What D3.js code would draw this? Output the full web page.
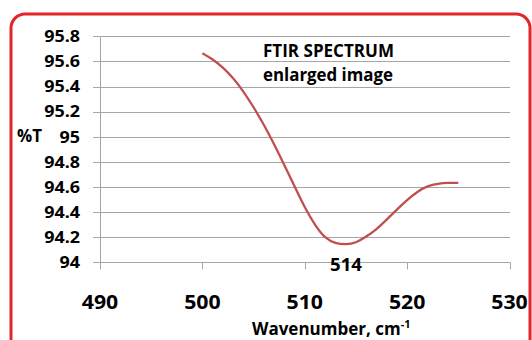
<!DOCTYPE html>
<html><head><meta charset="utf-8">
<script src="https://cdn.jsdelivr.net/npm/d3@7/dist/d3.min.js"></script>
<style>html,body{margin:0;padding:0;background:#fff;overflow:hidden}</style>
</head><body>
<svg id="c" width="532" height="340"></svg>
<script>
// ---- data ----
const wavenumbers = [500, 501, 502, 503, 504, 505, 506, 507, 508, 509, 510, 511, 512, 513, 514, 515, 516, 517, 518, 519, 520, 521, 522, 523, 524, 525];
const transmittance = [95.665, 95.615, 95.55, 95.465, 95.36, 95.235, 95.095, 94.94, 94.775, 94.605, 94.44, 94.30, 94.20, 94.155, 94.145, 94.16, 94.205, 94.265, 94.34, 94.42, 94.495, 94.56, 94.605, 94.625, 94.632, 94.632];
const xTicks = [490, 500, 510, 520, 530];
const yTicks = [94, 94.2, 94.4, 94.6, 94.8, 95, 95.2, 95.4, 95.6, 95.8];
const titleLines = ["FTIR SPECTRUM", "enlarged image"];
const peakLabel = "514";
const yLabel = "%T";
const xLabel = "Wavenumber, cm";
const xLabelSup = "-1";

const svg = d3.select("#c");
const FONT = "'Open Sans', 'DejaVu Sans', sans-serif";
const INK = "#000";
const W = 700;
const x = d3.scaleLinear().domain([490, 530]).range([100, 509.5]);
const y = d3.scaleLinear().domain([94, 95.8]).range([262.3, 36.3]);

// border
svg.append("rect").attr("x", 11).attr("y", 14).attr("width", 519).attr("height", 340)
  .attr("rx", 14).attr("fill", "none").attr("stroke", "#e3242b").attr("stroke-width", 3);

// gridlines (+ outer y ticks)
svg.append("g").selectAll("line").data(yTicks).join("line")
  .attr("x1", 93).attr("x2", 510)
  .attr("y1", d => Math.round(y(d)) + 0.5).attr("y2", d => Math.round(y(d)) + 0.5)
  .attr("stroke", "#a6a6a6").attr("stroke-width", 1);

// y axis line
svg.append("line").attr("x1", 100.5).attr("x2", 100.5).attr("y1", y(95.8)).attr("y2", y(94))
  .attr("stroke", "#a6a6a6");
// x ticks
svg.append("g").selectAll("line").data(xTicks).join("line")
  .attr("x1", d => Math.round(x(d)) + 0.5).attr("x2", d => Math.round(x(d)) + 0.5)
  .attr("y1", y(94)).attr("y2", y(94) + 7)
  .attr("stroke", "#a6a6a6");

// y tick labels
svg.append("g").selectAll("text").data(yTicks).join("text")
  .attr("transform", d => `translate(80,${y(d) + 5.8}) scale(1.12,1)`)
  .attr("text-anchor", "end").attr("font-family", FONT).attr("font-weight", W)
  .attr("font-size", 16).attr("fill", INK)
  .text(d => d3.format("")(d));

// x tick labels
svg.append("g").selectAll("text").data(xTicks).join("text")
  .attr("transform", d => `translate(${x(d)},309) scale(1.12,1)`)
  .attr("text-anchor", "middle").attr("font-family", FONT).attr("font-weight", W)
  .attr("font-size", 19).attr("fill", INK)
  .text(d => d);

// y label
svg.append("text").attr("x", 17).attr("y", 142)
  .attr("font-family", FONT).attr("font-weight", W).attr("font-size", 17).attr("fill", INK)
  .attr("textLength", 25).attr("lengthAdjust", "spacingAndGlyphs")
  .text(yLabel);

// x label
const xl = svg.append("text").attr("x", 252).attr("y", 335)
  .attr("font-family", FONT).attr("font-weight", W).attr("font-size", 17).attr("fill", INK);
xl.append("tspan").text(xLabel);
xl.append("tspan").attr("dy", -7).attr("font-size", 11).text(xLabelSup);

// title
svg.append("g").selectAll("text").data(titleLines).join("text")
  .attr("x", 263).attr("y", (d, i) => 56.5 + i * 24)
  .attr("font-family", FONT).attr("font-weight", W).attr("font-size", 17.5).attr("fill", INK)
  .attr("textLength", (d, i) => i === 0 ? 131 : 130).attr("lengthAdjust", "spacingAndGlyphs")
  .text(d => d);

// curve
const line = d3.line().x((d, i) => x(wavenumbers[i])).y(d => y(d)).curve(d3.curveNatural);
svg.append("path").datum(transmittance).attr("d", line)
  .attr("fill", "none").attr("stroke", "#c0504d").attr("stroke-width", 2.3);

// peak label
svg.append("text").attr("x", 346).attr("y", 271).attr("text-anchor", "middle")
  .attr("font-family", FONT).attr("font-weight", W).attr("font-size", 17.5).attr("fill", INK)
  .attr("textLength", 32).attr("lengthAdjust", "spacingAndGlyphs")
  .text(peakLabel);
</script>
</body></html>
